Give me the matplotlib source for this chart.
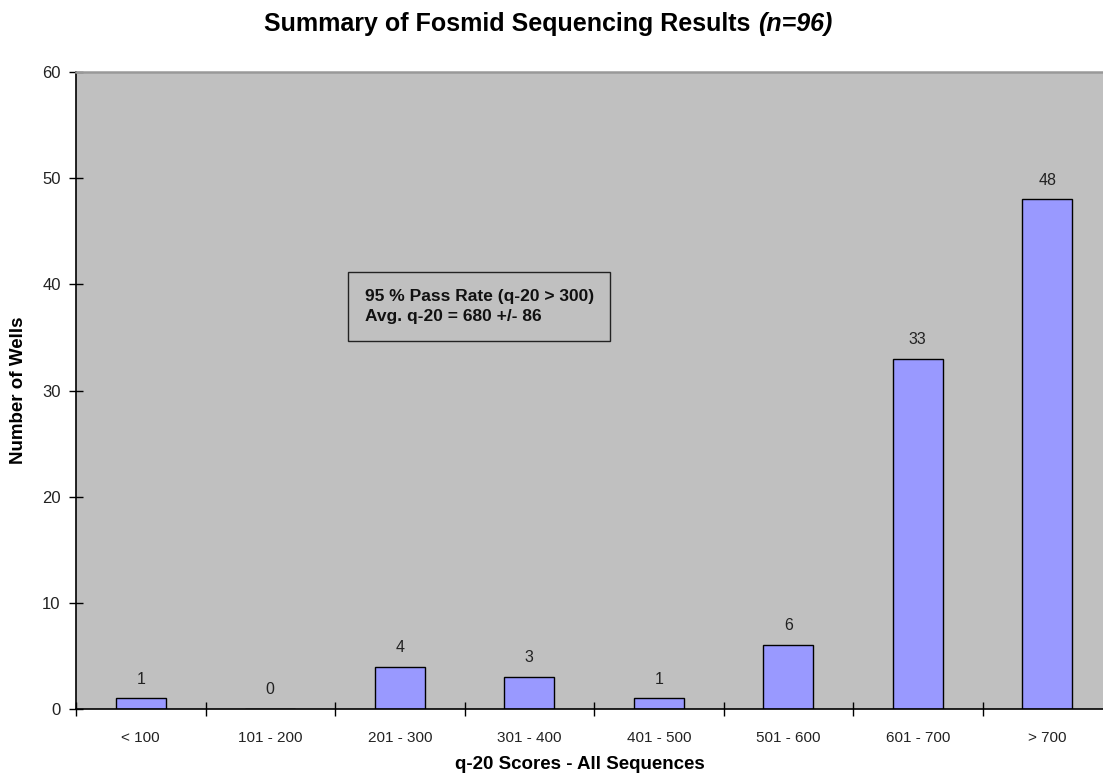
import matplotlib
matplotlib.use("Agg")
import matplotlib.pyplot as plt
import numpy as np

plt.rcParams['font.family'] = ['Liberation Sans', 'DejaVu Sans']

categories = ["< 100", "101 - 200", "201 - 300", "301 - 400",
              "401 - 500", "501 - 600", "601 - 700", "> 700"]
wells = [1, 0, 4, 3, 1, 6, 33, 48]

fig = plt.figure(figsize=(11.03, 7.81), dpi=100)
# plot area runs slightly past the right edge of the image, as in the original
ax = fig.add_axes([0.0689, 0.0922, 0.9393, 0.8156])
ax.set_facecolor('#C0C0C0')

x = np.arange(len(categories))
ax.bar(x, wells, width=0.386, color='#9999FF', edgecolor='black', linewidth=1.0)
for xi, v in zip(x, wells):
    ax.annotate(str(v), (xi, v), xytext=(0, 8.5), textcoords='offset points',
                ha='center', va='bottom', fontsize=11.5, color='#222222')

ax.set_xlim(-0.5, len(categories) - 0.5)
ax.set_ylim(0, 60)
ax.set_yticks(range(0, 61, 10))
ax.set_xticks(x)
ax.set_xticklabels(categories, fontsize=11)
ax.set_xticks(np.arange(-0.5, len(categories) + 0.5, 1), minor=True)
ax.tick_params(axis='x', which='major', length=0, pad=16, colors='#222222')
ax.tick_params(axis='x', which='minor', direction='inout', length=10, width=1)
ax.tick_params(axis='y', direction='inout', length=10, width=1, labelsize=12,
               pad=6, labelcolor='#222222')

ax.spines['top'].set_color('#999999')
ax.spines['top'].set_linewidth(1.8)
ax.spines['right'].set_visible(False)
for s in ['left', 'bottom']:
    ax.spines[s].set_color('black')
    ax.spines[s].set_linewidth(1.2)

ax.set_ylabel("Number of Wells", fontsize=13.5, fontweight='bold')
ax.yaxis.set_label_coords(-0.047, 0.5)
ax.set_xlabel("q-20 Scores - All Sequences", fontsize=13.5, fontweight='bold')
ax.xaxis.set_label_coords(0.4865, -0.074)

ax.text(1.73, 37.9, "95 % Pass Rate (q-20 > 300)\nAvg. q-20 = 680 +/- 86",
        fontsize=12.5, fontweight='bold', va='center', ha='left',
        linespacing=1.45, color='#111111',
        bbox=dict(boxstyle='square,pad=0.95', facecolor='#C0C0C0',
                  edgecolor='#222222', linewidth=1))

# title: bold part + bold italic part, centred on figure
fig.canvas.draw()
r = fig.canvas.get_renderer()
t1 = fig.text(0, 0.969, "Summary of Fosmid Sequencing Results ", fontsize=18,
              fontweight='bold', va='center')
t2 = fig.text(0, 0.969, "(n=96)", fontsize=18, fontweight='bold', style='italic', va='center')
w1 = t1.get_window_extent(r).width / fig.bbox.width
w2 = t2.get_window_extent(r).width / fig.bbox.width
x0 = 0.497 - (w1 + w2) / 2
t1.set_x(x0)
t2.set_x(x0 + w1)

fig.savefig("out.png", dpi=100)
